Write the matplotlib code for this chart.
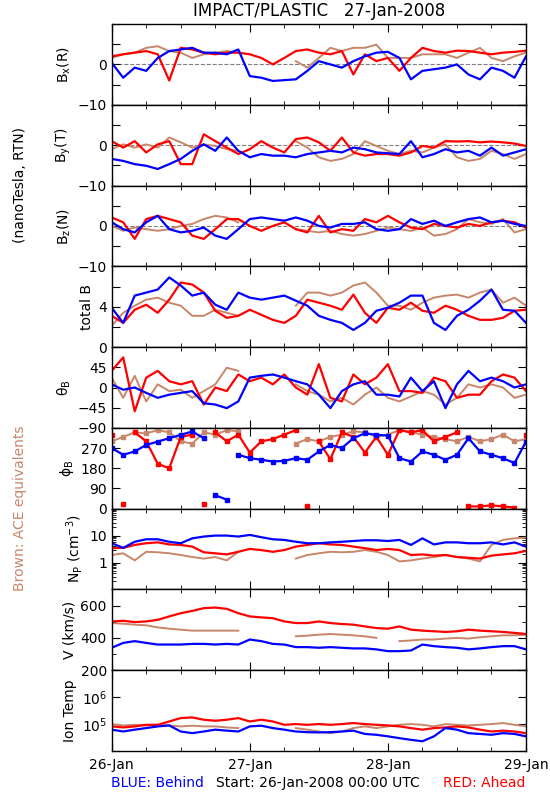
import numpy as np
import pandas as pd
import matplotlib
matplotlib.use('Agg')
from matplotlib import pyplot as plt
import matplotlib.dates as mdates
from matplotlib.ticker import FixedLocator, NullFormatter, LogLocator

plt.rcParams['font.family'] = ['DejaVu Sans']
plt.rcParams['mathtext.default'] = 'regular'

nan = np.nan
# 2-hourly samples, 26-Jan-2008 00:00 .. 29-Jan-2008 00:00
times = pd.date_range('2008-01-26 00:00', periods=37, freq='2h')

# ---- Bx (R) ----
bx_blue = [0.4, -3.3, -0.8, -1.6, 1.6, 3.3, 3.7, 4.1, 2.9, 2.9, 2.5, 3.7, -2.9, -3.3, -4.1, -3.9, -3.7, -1.6, 0.8,
           0.0, -0.8, 0.8, 2.0, 2.9, 3.1, 1.6, -3.7, -1.6, -1.2, -0.8, 0.0, -2.5, -3.7, -0.8, -1.6, -3.3, 2.0]
bx_red = [2.0, 2.5, 2.9, 3.3, 2.5, -4.0, 4.1, 3.7, 2.9, 2.5, 2.9, 2.9, 2.5, 1.6, 0.0, 1.6, 3.3, 3.7, 2.9,
          2.5, 3.3, -2.5, 2.5, 0.8, 1.6, -1.6, 1.6, 4.1, 3.3, 2.9, 3.4, 3.3, 2.9, 2.5, 2.9, 3.1, 3.4]
bx_ace = [1.6, 2.5, 2.9, 4.1, 4.5, 3.3, 2.9, 1.6, 2.5, 2.9, 3.3, 2.9, nan, nan, nan, nan, 0.8, -0.8, 1.6,
          4.1, 3.3, 4.1, 4.1, 4.9, 1.6, 1.6, 1.6, 2.5, 2.5, 2.5, 1.6, 2.9, 4.1, 1.6, 0.8, 2.0, 2.9]

# ---- By (T) ----
by_blue = [-3.4, -3.9, -4.7, -5.1, -5.9, -4.7, -3.4, -1.4, 0.2, -1.4, 1.9, -1.4, -3.0, -2.2, -2.6, -2.6, -3.0, -2.2, -1.8,
           -1.4, -1.8, -0.6, -1.0, -1.8, -2.0, -2.2, 1.0, -3.0, -2.2, -1.0, -1.8, -1.4, -2.6, -0.6, -2.6, -1.8, -1.0]
by_red = [1.0, -0.6, 1.0, -1.8, 0.2, 1.0, -4.7, -4.7, 2.7, 1.0, -0.6, -2.2, -1.0, 1.0, -0.6, -1.8, 1.5, 1.9, 0.7,
          -1.4, 1.9, -1.8, -2.6, -2.2, -2.2, -2.6, -1.8, -0.2, -0.6, 1.0, 0.9, 1.0, 0.7, 0.9, 0.7, 0.4, -0.2]
by_ace = [-1.0, 0.2, -0.6, 0.2, -0.6, 1.9, 0.7, -0.6, 0.2, -0.2, -1.0, -1.4, nan, nan, nan, nan, 1.0, -0.6, -3.0,
          -3.9, -3.4, -2.2, 1.0, -0.2, -1.4, -2.2, -1.4, -1.8, -0.6, 0.2, -3.0, -3.9, -3.4, -1.4, -2.2, -3.4, -2.2]

# ---- Bz (N) ----
bz_blue = [0.9, -0.8, -1.6, 0.9, 2.5, -0.8, -1.6, -1.2, -0.4, -2.4, -3.2, -0.8, 1.7, 2.1, 1.7, 1.3, 2.1, 1.3, 0.0,
           -0.4, 0.5, 0.5, 0.9, -0.8, -1.2, -0.8, 1.7, 0.5, 1.3, 0.0, 0.9, 1.7, 2.1, 0.9, 1.3, 0.5, 0.0]
bz_red = [2.1, 0.9, -3.2, 1.7, 2.5, 1.7, 0.9, -2.4, -3.2, -0.8, 1.7, 1.7, 0.0, -1.2, 0.0, 0.9, -0.8, -1.6, 2.5,
          -1.6, -0.8, -1.2, 1.7, 0.9, 2.5, 0.9, -0.4, -0.8, 0.5, 0.0, -0.4, 0.5, 0.0, 0.9, 1.3, 0.9, -0.4]
bz_ace = [0.0, -1.2, -0.4, -0.8, -1.2, -0.8, 0.0, 0.5, 1.7, 2.5, 2.1, 0.9, nan, nan, nan, nan, -0.8, -1.2, -1.6,
          -1.2, -2.0, -2.4, -2.0, -1.2, -0.4, -0.8, -1.2, -0.4, -2.4, -2.0, -0.8, 1.7, 0.9, 0.5, 1.7, -1.6, -0.8]

# ---- total B ----
bt_blue = [3.9, 2.4, 5.1, 5.4, 5.7, 6.9, 6.1, 5.1, 5.4, 4.2, 3.7, 5.4, 4.9, 4.7, 4.9, 5.1, 4.6, 4.1, 3.1,
           2.7, 2.4, 1.7, 2.4, 3.6, 3.9, 4.4, 5.1, 5.1, 2.4, 1.7, 3.1, 3.7, 4.6, 5.7, 3.7, 3.6, 2.4]
bt_red = [3.1, 2.4, 3.7, 4.2, 3.4, 4.7, 6.4, 6.2, 5.4, 3.6, 2.9, 3.1, 3.7, 3.2, 2.7, 2.4, 3.1, 4.7, 4.4,
          4.1, 3.7, 5.2, 3.4, 2.4, 3.9, 3.7, 4.4, 3.6, 3.4, 4.1, 3.7, 3.1, 2.7, 2.7, 2.9, 3.6, 3.7]
bt_ace = [2.1, 3.4, 4.1, 4.7, 4.9, 4.4, 4.1, 3.1, 3.1, 3.7, 3.4, 3.1, nan, nan, nan, nan, 4.1, 5.4, 5.4,
          5.1, 5.4, 6.1, 6.4, 5.4, 4.1, 4.1, 3.7, 4.4, 4.9, 5.1, 5.2, 4.9, 5.4, 5.7, 4.4, 4.9, 4.1]

# ---- theta_B ----
th_blue = [7, -5, 0, -12, -23, -16, -12, -8, -35, -38, -46, -31, 22, 26, 29, 22, 14, 7, -16,
           -46, -8, 7, 14, -16, -16, -20, 22, -8, 14, -46, 7, 37, 14, 22, 14, 0, 7]
th_red = [37, 67, -53, 22, 37, 14, 7, 14, -38, 0, -8, 29, 14, 22, 7, 29, 0, -16, 52,
          -23, -31, 29, 7, 22, 52, -8, -8, -12, 22, 14, -23, -16, -16, 14, 29, 22, -8]
th_ace = [22, -23, 26, -31, 7, -8, -5, -23, -8, 7, 44, 37, nan, nan, nan, nan, 7, -8, -16,
          -31, -23, -38, -16, 0, -23, -31, -20, -8, -16, -38, -23, 7, 0, 7, 0, -23, -16]

# ---- phi_B ----
ph_blue = [270, 240, 255, 284, 299, 314, 329, 344, 314, 60, 40, 240, 225, 218, 210, 213, 225, 218, 255,
           284, 270, 314, 336, 329, 326, 225, 210, 255, 240, 218, 240, 314, 255, 240, 225, 203, 299]
ph_red = [330, 20, 340, 300, 200, 180, 320, 330, 20, 340, 300, 330, 250, 300, 310, 330, 350, 10, 300,
          220, 340, 320, 250, 320, 240, 350, 340, 350, 300, 320, 340, 10, 10, 15, 10, 5, 330]
ph_ace = [300, 320, 340, 335, 350, 340, 300, 290, 340, 330, 350, 345, nan, nan, nan, nan, 290, 310, 300,
          320, 330, 345, 340, 320, 330, 350, 340, 330, 320, 310, 300, 320, 300, 310, 330, 300, 310]

# ---- N_P (cm^-3) ----
np_blue = [5.2, 3.5, 5.9, 7.3, 7.3, 5.9, 5.2, 7.9, 9.2, 10.0, 10.0, 9.2, 10.6, 8.7, 7.3, 6.9, 5.9, 5.2, 5.2,
           5.6, 5.9, 6.3, 6.7, 6.7, 6.3, 6.9, 4.5, 7.9, 4.7, 5.6, 5.6, 5.2, 5.2, 5.6, 4.7, 5.6, 3.9]
np_red = [3.4, 3.5, 4.5, 5.2, 5.6, 4.7, 4.5, 3.9, 2.4, 2.2, 2.0, 2.5, 3.2, 2.9, 2.5, 2.9, 3.9, 4.5, 5.2,
          4.7, 4.5, 3.9, 3.4, 2.9, 3.2, 2.9, 1.9, 2.0, 1.8, 1.9, 1.6, 1.5, 1.4, 1.8, 2.0, 2.2, 2.7]
np_ace = [1.9, 2.2, 1.2, 2.5, 2.4, 2.2, 1.9, 1.6, 1.4, 1.6, 1.2, 2.5, nan, nan, nan, nan, 1.4, 1.9, 2.2,
          2.5, 2.4, 2.5, 2.9, 2.5, 1.9, 1.1, 1.2, 1.4, 1.6, 1.9, 1.6, 1.4, 1.1, 4.5, 6.9, 7.9, 8.4]

# ---- V (km/s) ----
v_blue = [339, 369, 380, 369, 359, 359, 359, 363, 363, 359, 363, 359, 390, 380, 363, 359, 343, 343, 339,
          343, 339, 335, 335, 329, 318, 318, 322, 359, 349, 343, 339, 329, 335, 343, 349, 349, 329]
v_red = [502, 506, 498, 502, 512, 533, 553, 567, 584, 588, 580, 553, 533, 527, 522, 502, 492, 492, 502,
         492, 486, 482, 471, 461, 457, 471, 451, 445, 441, 437, 441, 451, 445, 441, 437, 431, 424]
v_ace = [492, 488, 482, 478, 465, 457, 451, 445, 445, 445, 445, 445, nan, nan, nan, nan, 410, 414, 420,
         424, 420, 416, 410, 400, nan, 380, 384, 390, 390, 396, 400, 396, 404, 410, 416, 416, 420]

# ---- Ion Temp (K) ----
t_blue = [6.2e4, 5.3e4, 6.2e4, 7.1e4, 8.2e4, 8.9e4, 5.3e4, 4.6e4, 5.3e4, 6.2e4, 5.7e4, 5.3e4, 8.2e4, 8.7e4,
          7.1e4, 6.2e4, 5.3e4, 5.0e4, 4.9e4, 5.0e4, 5.3e4, 5.7e4, 4.3e4, 4.0e4, 3.5e4, 3.0e4, 2.6e4, 2.3e4,
          3.5e4, 7.1e4, 6.2e4, 4.6e4, 4.3e4, 4.0e4, 4.6e4, 4.3e4, 3.5e4]
t_red = [8.2e4, 7.5e4, 8.2e4, 9.4e4, 9.4e4, 1.25e5, 1.67e5, 1.77e5, 1.45e5, 1.33e5, 1.45e5, 1.67e5, 1.25e5,
         1.45e5, 1.25e5, 9.4e4, 1.0e5, 9.4e4, 1.0e5, 9.4e4, 1.0e5, 1.09e5, 1.0e5, 9.4e4, 8.9e4, 8.2e4, 7.1e4,
         6.2e4, 7.1e4, 7.5e4, 8.2e4, 7.5e4, 6.2e4, 5.3e4, 5.7e4, 5.3e4, 4.6e4]
t_ace = [1.0e5, 8.9e4, 9.4e4, 8.9e4, 9.4e4, 8.9e4, 8.2e4, 8.7e4, 8.2e4, 8.2e4, 7.5e4, 7.1e4, nan, nan, nan,
         nan, 7.1e4, 6.2e4, 5.3e4, 4.6e4, 5.3e4, 7.1e4, 8.2e4, 7.1e4, 8.2e4, 9.4e4, 1.0e5, 9.4e4, 8.2e4,
         1.0e5, 9.4e4, 8.9e4, 9.4e4, 1.0e5, 1.09e5, 9.4e4, 8.2e4]

BLUE = '#0000ff'
RED = '#ff0000'
BROWN = '#c8866a'

panels = [
    ('B$_x$(R)', bx_ace, bx_red, bx_blue),
    ('B$_y$(T)', by_ace, by_red, by_blue),
    ('B$_z$(N)', bz_ace, bz_red, bz_blue),
    ('total B', bt_ace, bt_red, bt_blue),
    (r'$\theta_B$', th_ace, th_red, th_blue),
    (r'$\phi_B$', ph_ace, ph_red, ph_blue),
    ('N$_P$ (cm$^{-3}$)', np_ace, np_red, np_blue),
    ('V (km/s)', v_ace, v_red, v_blue),
    ('Ion Temp', t_ace, t_red, t_blue),
]


def plot_angle(ax, t, vals, color, lw):
    # break the line where phi wraps round 0/360
    v = np.array(vals, dtype=float)
    jump = np.abs(np.diff(v)) > 180
    vv = v.copy()
    tt = np.array(t)
    seg_v, seg_t = [], []
    for k in range(len(v)):
        seg_v.append(vv[k])
        seg_t.append(tt[k])
        if k < len(jump) and jump[k]:
            seg_v.append(np.nan)
            seg_t.append(tt[k])
    ax.plot(seg_t, seg_v, color=color, lw=lw)
    ax.plot(t, v, ls='none', marker='s', ms=2.5, color=color)


fig = plt.figure(figsize=(5.5, 8), dpi=100)
W, H = 550.0, 800.0
left, right = 111.7, 526.0
top, bottom = 24.0, 751.0
ph = (bottom - top) / 9.0

t0 = pd.Timestamp('2008-01-26')
t1 = pd.Timestamp('2008-01-29')

axes = []
for i, (lab, ace, red, blue) in enumerate(panels):
    y_top = top + i * ph
    ax = fig.add_axes([left / W, 1 - (y_top + ph) / H, (right - left) / W, ph / H])
    axes.append(ax)
    if i == 5:
        plot_angle(ax, times, ace, BROWN, 1.4)
        plot_angle(ax, times, red, RED, 1.6)
        plot_angle(ax, times, blue, BLUE, 1.6)
    else:
        ax.plot(times, ace, color=BROWN, lw=1.4)
        ax.plot(times, red, color=RED, lw=1.6)
        ax.plot(times, blue, color=BLUE, lw=1.6)
    ax.set_xlim(t0, t1)
    ax.set_ylabel(lab, fontsize=10, labelpad=3)
    ax.tick_params(which='both', direction='in', top=True, right=True, labelsize=10)
    ax.tick_params(which='major', length=6)
    ax.tick_params(which='minor', length=3)
    ax.xaxis.set_major_locator(mdates.DayLocator())
    ax.xaxis.set_minor_locator(mdates.HourLocator(byhour=[6, 12, 18]))
    if i < 8:
        ax.xaxis.set_major_formatter(NullFormatter())
    else:
        ax.xaxis.set_major_formatter(mdates.DateFormatter('%d-%b'))
        ax.tick_params(axis='x', pad=5)
    for s in ax.spines.values():
        s.set_linewidth(1.0)

# y axes
for ax in axes[:3]:
    ax.set_ylim(-10, 10)
    ax.set_yticks([-10, -5, 0, 5, 10])
    ax.set_yticklabels(['\u221210', '', '0', '', ''])
    ax.axhline(0, color='gray', ls='--', lw=0.8, zorder=0)

axes[3].set_ylim(0, 8)
axes[3].set_yticks([0, 2, 4, 6, 8])
axes[3].set_yticklabels(['0', '', '4', '', ''])

axes[4].set_ylim(-90, 90)
axes[4].set_yticks([-90, -45, 0, 45, 90])
axes[4].set_yticklabels(['\u221290', '\u221245', '0', '45', ''])

axes[5].set_ylim(0, 360)
axes[5].set_yticks([0, 90, 180, 270, 360])
axes[5].set_yticklabels(['0', '90', '180', '270', ''])

axes[6].set_yscale('log')
axes[6].set_ylim(0.1, 100)
axes[6].yaxis.set_major_locator(FixedLocator([0.1, 1, 10, 100]))
axes[6].yaxis.set_minor_locator(LogLocator(base=10, subs=np.arange(2, 10)))
axes[6].yaxis.set_minor_formatter(NullFormatter())
axes[6].set_yticklabels(['', '1', '10', ''])

axes[7].set_ylim(200, 700)
axes[7].set_yticks([200, 400, 600])
axes[7].set_yticks([300, 500, 700], minor=True)
axes[7].set_yticklabels(['200', '400', '600'])

axes[8].set_yscale('log')
axes[8].set_ylim(1e4, 1e7)
axes[8].yaxis.set_major_locator(FixedLocator([1e4, 1e5, 1e6, 1e7]))
axes[8].yaxis.set_minor_locator(LogLocator(base=10, subs=np.arange(2, 10)))
axes[8].yaxis.set_minor_formatter(NullFormatter())
axes[8].set_yticklabels(['', '10$^5$', '10$^6$', ''])

fig.text(319 / W, 1 - 11 / H, 'IMPACT/PLASTIC   27-Jan-2008', ha='center', va='center', fontsize=12)
fig.text(20 / W, 1 - 185 / H, '(nanoTesla, RTN)', rotation=90, ha='center', va='center', fontsize=10)
fig.text(20 / W, 1 - 508 / H, 'Brown: ACE equivalents', rotation=90, ha='center', va='center',
         fontsize=10, color=BROWN)
fig.text(111 / W, 1 - 783 / H, 'BLUE: Behind', ha='left', va='center', fontsize=10, color=BLUE)
fig.text(318 / W, 1 - 783 / H, 'Start: 26-Jan-2008 00:00 UTC', ha='center', va='center', fontsize=10)
fig.text(525 / W, 1 - 783 / H, 'RED: Ahead', ha='right', va='center', fontsize=10, color=RED)

fig.savefig('out.png', dpi=100)
